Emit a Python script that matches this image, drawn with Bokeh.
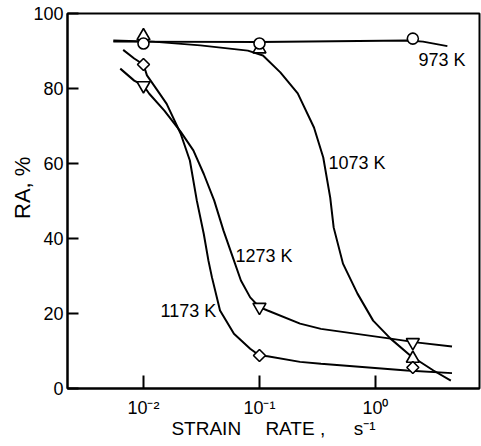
import numpy as np
from bokeh.plotting import figure
from bokeh.models import FixedTicker
from bokeh.core.properties import value
from bokeh.embed import file_html
from bokeh.resources import INLINE

# ---- data ----
# marker points: strain rate (s^-1) and RA (%)
rate_pts = [0.01, 0.1, 2.1]
ra_973 = [92.0, 92.0, 93.3]
ra_1073 = [94.0, 90.5, 8.0]
ra_1173 = [86.4, 8.8, 5.6]
ra_1273 = [80.8, 21.7, 12.3]

# hand-drawn curves, traced: log10(strain rate), RA (%)
c973_log = [-2.26, -1.0, 0.28, 0.41, 0.62]
c973_ra = [92.5, 92.4, 92.8, 92.5, 91.3]

c1073_log = [-2.26, -1.92, -1.51, -1.10, -0.97, -0.82, -0.67, -0.53, -0.45,
             -0.39, -0.36, -0.28, -0.155, -0.02, 0.13, 0.30, 0.50, 0.65]
c1073_ra = [92.8, 92.5, 91.5, 90.1, 88.8, 84.3, 78.7, 69.6, 61.6,
            50.9, 42.9, 33.3, 25.3, 18.1, 13.3, 8.8, 4.8, 2.1]

c1173_log = [-2.175, -2.08, -2.0, -1.97, -1.88, -1.80, -1.68, -1.60, -1.54,
             -1.48, -1.44, -1.41, -1.34, -1.22, -1.08, -1.0, -0.93, -0.65,
             -0.47, 0.27, 0.66]
c1173_ra = [90.3, 88.0, 86.4, 83.5, 79.5, 75.9, 68.0, 60.8, 50.1,
            41.2, 34.1, 29.7, 20.8, 14.6, 10.6, 8.8, 8.6, 7.1,
            6.6, 4.8, 4.1]

c1273_log = [-2.20, -2.08, -2.0, -1.95, -1.82, -1.68, -1.57, -1.48, -1.39,
             -1.31, -1.24, -1.16, -1.08, -1.0, -0.93, -0.65, -0.47, 0.13,
             0.35, 0.66]
c1273_ra = [85.3, 82.1, 80.8, 78.6, 74.1, 68.5, 63.5, 57.2, 50.1,
            42.1, 35.9, 28.8, 24.3, 21.7, 20.8, 17.3, 15.9, 13.3,
            12.3, 11.2]

# curve labels: text, strain rate, RA
lab_text = ["973 K", "1073 K", "1273 K", "1173 K"]
lab_rate = [2.35, 0.394, 0.0621, 0.01402]
lab_ra = [87.5, 60.1, 35.3, 20.7]

x_ticks = [0.01, 0.1, 1]
x_tick_labels = ["10\u207b\u00b2", "10\u207b\u00b9", "10\u2070"]
y_ticks = [0, 20, 40, 60, 80, 100]

FONT = "Liberation Sans"

p = figure(width=481, height=446, x_axis_type="log",
           x_range=(10 ** -2.655, 10 ** 0.897), y_range=(0, 100),
           output_backend="svg", toolbar_location=None,
           min_border_left=67, min_border_right=2, min_border_top=13,
           min_border_bottom=58)
p.grid.visible = False
p.outline_line_color = "black"
p.outline_line_width = 2
p.background_fill_color = "white"
p.border_fill_color = "white"

# axes
p.xaxis.ticker = FixedTicker(ticks=x_ticks)
p.xaxis.major_label_overrides = dict(zip(x_ticks, x_tick_labels))
p.yaxis.ticker = FixedTicker(ticks=y_ticks)
for ax in (p.xaxis[0], p.yaxis[0]):
    ax.axis_line_width = 2
    ax.axis_line_color = "black"
    ax.major_tick_line_width = 2
    ax.major_tick_line_color = "black"
    ax.major_tick_out = 0
    ax.minor_tick_line_color = None
    ax.major_label_text_font = FONT
    ax.major_label_text_color = "black"
    ax.major_label_text_font_style = "normal"
    ax.axis_label_text_font = FONT
    ax.axis_label_text_font_style = "normal"
    ax.axis_label_text_color = "black"
p.yaxis.major_tick_in = 11
p.xaxis.major_tick_in = 13
p.yaxis.major_label_text_font_size = "18px"
p.yaxis.major_label_standoff = 4
p.xaxis.major_label_text_font_size = "18px"
p.xaxis.major_label_standoff = 9

# axis titles
p.yaxis.axis_label = "\u2003\u2009RA, %"
p.yaxis.axis_label_text_font_size = "22px"
p.yaxis.axis_label_standoff = -5
p.xaxis.axis_label = "STRAIN\u2003 RATE ,\u2003\u2002s\u207b\u00b9"
p.xaxis.axis_label_text_font_size = "19px"
p.xaxis.axis_label_standoff = -3

# curves
lw = 2
p.line(10 ** np.array(c973_log), c973_ra, line_color="black", line_width=lw)
p.line(10 ** np.array(c1073_log), c1073_ra, line_color="black", line_width=lw)
p.line(10 ** np.array(c1173_log), c1173_ra, line_color="black", line_width=lw)
p.line(10 ** np.array(c1273_log), c1273_ra, line_color="black", line_width=lw)

# markers
mk = dict(fill_color="white", line_color="black", line_width=1.6)
p.scatter(rate_pts, ra_1073, marker="triangle", size=13, **mk)
p.scatter(rate_pts, ra_1273, marker="inverted_triangle", size=13, **mk)
p.scatter(rate_pts, ra_1173, marker="square", size=8.5, angle=np.pi / 4, **mk)
p.scatter(rate_pts, ra_973, marker="circle", size=11, **mk)

# curve labels
p.text(lab_rate, lab_ra, text=lab_text, text_font=value(FONT),
       text_font_size="18px", text_align="left", text_baseline="middle",
       text_color="black")

open("out.html", "w").write(file_html(p, INLINE))
